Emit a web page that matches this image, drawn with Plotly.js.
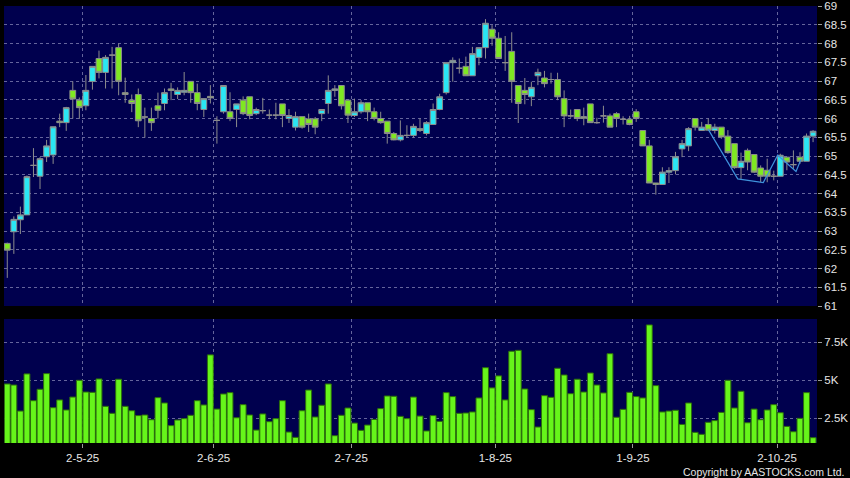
<!DOCTYPE html>
<html>
<head>
<meta charset="utf-8">
<script src="https://cdn.plot.ly/plotly-3.0.1.min.js"></script>
<style>
  html, body { margin: 0; padding: 0; background: #000; }
  #chart { width: 850px; height: 478px; }
</style>
</head>
<body>
<div id="chart"></div>
<script>
// Trading days (HK), 14 Apr 2025 – 13 Oct 2025
const dates = [
  '2025-04-14','2025-04-15','2025-04-16','2025-04-17','2025-04-22','2025-04-23','2025-04-24','2025-04-25','2025-04-28','2025-04-29','2025-04-30',
  '2025-05-02','2025-05-06','2025-05-07','2025-05-08','2025-05-09','2025-05-12','2025-05-13','2025-05-14','2025-05-15','2025-05-16',
  '2025-05-19','2025-05-20','2025-05-21','2025-05-22','2025-05-23','2025-05-26','2025-05-27','2025-05-28','2025-05-29','2025-05-30',
  '2025-06-02','2025-06-03','2025-06-04','2025-06-05','2025-06-06','2025-06-09','2025-06-10','2025-06-11','2025-06-12','2025-06-13',
  '2025-06-16','2025-06-17','2025-06-18','2025-06-19','2025-06-20','2025-06-23','2025-06-24','2025-06-25','2025-06-26','2025-06-27','2025-06-30',
  '2025-07-02','2025-07-03','2025-07-04','2025-07-07','2025-07-08','2025-07-09','2025-07-10','2025-07-11','2025-07-14','2025-07-15',
  '2025-07-16','2025-07-17','2025-07-18','2025-07-21','2025-07-22','2025-07-23','2025-07-24','2025-07-25','2025-07-28','2025-07-29','2025-07-30','2025-07-31',
  '2025-08-01','2025-08-04','2025-08-05','2025-08-06','2025-08-07','2025-08-08','2025-08-11','2025-08-12','2025-08-13','2025-08-14','2025-08-15',
  '2025-08-18','2025-08-19','2025-08-20','2025-08-21','2025-08-22','2025-08-25','2025-08-26','2025-08-27','2025-08-28','2025-08-29',
  '2025-09-01','2025-09-02','2025-09-03','2025-09-04','2025-09-05','2025-09-08','2025-09-09','2025-09-10','2025-09-11','2025-09-12',
  '2025-09-15','2025-09-16','2025-09-17','2025-09-18','2025-09-19','2025-09-22','2025-09-23','2025-09-24','2025-09-25','2025-09-26','2025-09-29','2025-09-30',
  '2025-10-02','2025-10-03','2025-10-06','2025-10-08','2025-10-09','2025-10-10','2025-10-13'
];

const open = [
  62.67,62.98,63.30,63.43,64.75,64.46,64.98,65.03,65.93,65.89,66.75,
  66.49,66.34,66.99,67.60,67.23,67.69,67.89,66.69,66.49,66.64,
  66.04,66.00,66.34,66.40,66.79,66.64,66.70,66.99,66.69,66.24,
  66.59,65.95,66.18,66.18,66.24,66.49,66.58,66.13,66.21,66.09,
  66.09,66.39,66.00,65.77,66.05,65.99,65.99,66.13,66.40,66.75,66.88,
  66.49,66.08,66.18,66.42,66.18,66.00,65.93,65.60,65.43,65.55,
  65.55,65.73,65.60,65.84,66.24,66.69,67.49,67.34,67.39,67.14,67.63,67.89,
  68.38,68.14,67.49,67.79,66.88,66.75,66.58,67.14,67.08,67.04,67.04,
  66.53,66.07,66.24,66.05,66.39,65.89,66.07,66.07,66.13,65.98,
  65.98,66.18,65.68,65.27,64.28,64.24,64.57,64.61,65.19,65.27,
  66.00,65.68,65.84,65.68,65.77,65.53,65.33,64.69,65.15,65.04,64.68,64.62,
  64.46,64.46,64.97,64.77,64.97,64.86,65.53
];
const high = [
  62.69,63.39,63.65,64.48,65.21,64.97,65.43,65.78,66.13,66.31,66.99,
  66.56,67.16,67.39,67.81,67.69,67.91,68.00,67.09,66.64,66.80,
  66.29,66.29,66.69,66.80,66.95,66.83,67.24,66.99,66.93,66.53,
  66.89,66.06,66.88,66.70,66.39,66.59,66.58,66.29,66.55,66.24,
  66.42,66.39,66.25,66.18,66.05,66.13,66.04,66.24,67.15,66.89,66.88,
  66.49,66.53,66.49,66.42,66.29,66.18,65.93,65.64,65.95,65.82,
  65.86,66.00,65.93,66.40,66.66,67.49,67.63,67.60,67.65,67.91,67.89,68.65,
  68.49,68.30,68.20,68.30,66.88,67.08,66.98,67.33,67.27,67.22,67.22,
  66.75,66.24,66.24,66.29,66.39,66.02,66.34,66.13,66.17,66.06,
  66.07,66.25,65.68,65.43,64.28,64.70,64.70,65.11,65.43,65.77,
  66.00,65.91,66.00,65.86,65.77,65.69,65.33,65.09,65.20,65.04,64.75,64.93,
  64.61,65.06,64.97,65.15,65.10,65.60,65.69
];
const low = [
  61.75,62.39,62.92,63.43,64.44,64.12,64.84,64.79,65.77,65.67,66.00,
  65.99,66.22,66.77,67.07,66.80,66.80,66.62,66.42,66.17,65.77,
  65.49,65.67,66.00,66.22,66.49,66.52,66.62,66.42,66.22,66.04,
  66.40,65.33,66.13,65.93,65.77,66.09,65.98,66.09,66.13,65.98,
  65.98,65.77,65.88,65.68,65.73,65.64,65.58,65.93,66.13,66.58,66.24,
  65.88,66.04,66.13,65.93,65.95,65.86,65.33,65.42,65.39,65.49,
  65.49,65.64,65.55,65.84,66.22,66.64,66.98,67.20,67.14,67.14,67.42,67.60,
  67.94,67.60,67.27,66.42,65.88,66.38,66.33,66.89,66.83,66.93,66.49,
  65.77,66.02,65.93,65.82,65.89,65.86,65.89,65.77,65.77,65.84,
  65.82,65.91,65.27,64.28,63.97,64.24,64.28,64.51,64.97,65.13,
  65.68,65.67,65.67,65.60,65.46,65.06,64.66,64.39,64.62,64.55,64.30,64.30,
  64.35,64.46,64.62,64.66,64.79,64.86,65.37
];
const close = [
  62.49,63.31,63.43,64.45,64.75,64.93,65.27,65.78,65.89,66.29,66.52,
  66.29,66.75,67.39,67.23,67.63,67.69,66.99,66.64,66.40,65.94,
  66.04,65.89,66.22,66.69,66.75,66.75,66.75,66.69,66.40,66.53,
  66.55,65.95,66.88,66.00,66.39,66.13,66.08,66.24,66.21,66.09,
  66.09,66.08,66.08,66.05,65.77,65.84,65.77,66.24,66.75,66.79,66.34,
  66.09,66.18,66.42,66.18,66.00,65.89,65.60,65.43,65.55,65.55,
  65.79,65.68,65.89,66.24,66.58,67.49,67.55,67.34,67.14,67.73,67.89,68.54,
  68.14,67.60,67.49,66.99,66.40,66.64,66.83,67.23,66.93,67.04,66.58,
  66.07,66.07,66.00,66.01,65.89,65.89,66.07,65.77,66.00,65.98,
  65.84,66.00,65.27,64.28,64.24,64.57,64.61,64.98,65.33,65.73,
  65.77,65.77,65.69,65.77,65.51,65.09,64.69,64.86,64.84,64.57,64.46,64.46,
  64.46,65.02,64.84,64.77,64.86,65.53,65.66
];
const volume = [
  4760,4690,2980,5420,3660,4410,5440,3200,3710,3050,3900,
  5000,4230,4210,5090,3290,2830,5070,3290,3000,2680,
  2720,2410,3860,3510,2020,2390,2480,2700,3660,3380,
  6670,3110,4100,4190,2540,3400,2720,1730,2790,2280,
  2480,3660,1600,1250,3000,4360,2590,3360,4760,1360,2700,
  3180,2190,1710,2060,2430,3140,3970,3950,2630,2480,
  3900,2650,1670,2680,2300,4190,3930,2830,2850,2920,3840,5830,
  4500,5290,3710,6910,6970,4430,3070,1930,3990,3880,5790,
  5350,4120,5070,4230,5480,4690,4170,6750,2570,3090,
  4210,3930,3840,8640,4650,2920,2980,3030,2100,3510,
  1580,1450,2240,2350,2890,5000,3180,4280,2210,3110,2410,3050,
  3400,2870,1970,1620,2500,4190,1230
];

// thin overlay line (as drawn on the reference)
const overlayPos = [107, 111.5, 115.4, 117.6, 120.4, 121.2];
const overlayVal = [65.71, 64.39, 64.29, 65.02, 64.59, 64.93];

// date axis labels
const tickDates = ['2025-05-02','2025-06-02','2025-07-02','2025-08-01','2025-09-01','2025-10-02'];
const tickText  = ['2-5-25','2-6-25','2-7-25','1-8-25','1-9-25','2-10-25'];

// volume axis labels
const volTickVals = [2500, 5000, 7500];
const volTickText = ['2.5K', '5K', '7.5K'];

const xs = dates.map((d, i) => i);
const tickPos = tickDates.map(d => dates.indexOf(d) + 0.5);

const GRID = 'rgba(112,112,165,0.9)';
const DASH = '3px,3px';
const FONT = 'Liberation Sans, Arial, sans-serif';

const traces = [
  {
    type: 'candlestick',
    x: xs, open: open, high: high, low: low, close: close,
    xaxis: 'x', yaxis: 'y',
    increasing: { fillcolor: '#2ae6f4', line: { color: '#8c8c8c', width: 1 } },
    decreasing: { fillcolor: '#7fe822', line: { color: '#8c8c8c', width: 1 } },
    whiskerwidth: 0,
    hoverinfo: 'skip'
  },
  {
    type: 'scatter', mode: 'lines',
    x: overlayPos, y: overlayVal,
    xaxis: 'x', yaxis: 'y',
    line: { color: '#3f92dc', width: 1.2 },
    hoverinfo: 'skip'
  },
  {
    type: 'bar',
    x: xs, y: volume,
    xaxis: 'x', yaxis: 'y2',
    marker: { color: '#66f51a', line: { color: '#2c6e0c', width: 1 } },
    hoverinfo: 'skip'
  }
];

const layout = {
  width: 850, height: 478,
  paper_bgcolor: '#000000',
  plot_bgcolor: '#00004e',
  margin: { l: 4, r: 33, t: 6, b: 35 },
  showlegend: false,
  boxgap: 0.12,
  boxgroupgap: 0,
  bargap: 0.1,
  font: { family: FONT, color: '#e6e6e6', size: 11 },
  xaxis: {
    type: 'linear',
    range: [-0.5, 123.6],
    anchor: 'y2',
    tickvals: tickPos,
    ticktext: tickText,
    showgrid: true, gridcolor: GRID, griddash: DASH, gridwidth: 1,
    ticks: 'outside', ticklen: 4, tickcolor: '#9a9a9a',
    tickfont: { family: FONT, size: 11.5, color: '#e6e6e6' },
    zeroline: false, showline: false,
    rangeslider: { visible: false },
    fixedrange: true
  },
  yaxis: {
    domain: [0.3135, 1],
    range: [61, 69],
    tick0: 61, dtick: 0.5,
    side: 'right',
    showgrid: true, gridcolor: GRID, griddash: DASH, gridwidth: 1,
    ticks: 'outside', ticklen: 4, tickcolor: '#9a9a9a',
    tickfont: { family: FONT, size: 11.5, color: '#e6e6e6' },
    zeroline: false, showline: false,
    fixedrange: true
  },
  yaxis2: {
    domain: [0, 0.2838],
    range: [880, 9030],
    tickvals: volTickVals, ticktext: volTickText,
    side: 'right',
    showgrid: true, gridcolor: GRID, griddash: DASH, gridwidth: 1,
    ticks: 'outside', ticklen: 4, tickcolor: '#9a9a9a',
    tickfont: { family: FONT, size: 11.5, color: '#e6e6e6' },
    zeroline: false, showline: false,
    fixedrange: true
  },
  annotations: [{
    xref: 'paper', yref: 'paper',
    x: 1.0357, y: -0.066,
    xanchor: 'right', yanchor: 'middle',
    text: 'Copyright by AASTOCKS.com Ltd.',
    showarrow: false,
    font: { family: FONT, size: 10.5, color: '#e6e6e6' }
  }]
};

Plotly.newPlot('chart', traces, layout, { staticPlot: true, displayModeBar: false });
</script>
</body>
</html>
